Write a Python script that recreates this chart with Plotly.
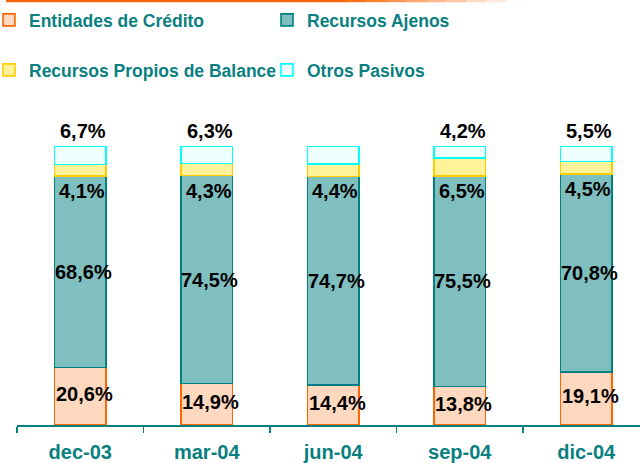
import plotly.graph_objects as go

categories = ["dec-03", "mar-04", "jun-04", "sep-04", "dic-04"]
entidades = [20.6, 14.9, 14.4, 13.8, 19.1]
ajenos = [68.6, 74.5, 74.7, 75.5, 70.8]
propios = [4.1, 4.3, 4.4, 6.5, 4.5]
otros = [6.7, 6.3, 6.5, 4.2, 5.5]

names = ["Entidades de Crédito", "Recursos Ajenos", "Recursos Propios de Balance", "Otros Pasivos"]
fills = ["#FFD9BF", "#80BFBF", "#FFF299", "#EFFFFF"]
lines = ["#FF6600", "#008080", "#FFCC00", "#00FFFF"]
legends = ["legend", "legend", "legend2", "legend2"]

W, H = 640, 463
ML, MR, MT, MB = 17, 0, 146, 38
TEAL = "#0A7F7F"
FONT = "Arial, Liberation Sans, sans-serif"

fig = go.Figure()
for name, vals, fc, lc, lg in zip(names, [entidades, ajenos, propios, otros], fills, lines, legends):
    fig.add_trace(go.Bar(
        x=categories, y=vals, name=name, width=0.41,
        marker=dict(color=fc, line=dict(color=lc, width=1.6)),
        legend=lg, hoverinfo="skip",
    ))

def fmt(v):
    return f"{v:.1f}%".replace(".", ",")

ann = []
lab_font = dict(family=FONT, size=20, color="black", weight="bold")
for i, c in enumerate(categories):
    e, a, p, o = entidades[i], ajenos[i], propios[i], otros[i]
    ann.append(dict(x=c, y=e / 2, text=fmt(e), showarrow=False, xshift=4, yshift=2, font=lab_font))
    ann.append(dict(x=c, y=e + a / 2, text=fmt(a), showarrow=False, xshift=3, font=lab_font))
    ann.append(dict(x=c, y=e + a, text=fmt(p), showarrow=False, yanchor="middle", yshift=-15, xshift=2, font=lab_font))
    ann.append(dict(x=c, y=e + a + p + o, text=fmt(o), showarrow=False, yanchor="middle", yshift=15, xshift=3, font=lab_font))

# gradient orange rule at top
pw = W - ML - MR
ph = H - MT - MB
def px2x(px):
    return (px - ML) / pw
def py2y(py):
    return (H - MB - py) / ph
shapes = []
xs = [6 + k * 20 for k in range(27)]
for k in range(len(xs) - 1):
    xm = (xs[k] + xs[k + 1]) / 2
    alpha = 1.0 if xm < 340 else max(0.0, 1 - (xm - 340) / 180)
    shapes.append(dict(type="line", xref="paper", yref="paper",
                       x0=px2x(xs[k]), x1=px2x(xs[k + 1]), y0=py2y(1), y1=py2y(1),
                       line=dict(color=f"rgba(255,102,0,{alpha:.2f})", width=2.5)))

leg_font = dict(family=FONT, size=17.5, color=TEAL, weight="bold")
fig.update_layout(
    width=W, height=H,
    margin=dict(l=ML, r=MR, t=MT, b=MB, autoexpand=False),
    paper_bgcolor="white", plot_bgcolor="white",
    barmode="stack", bargap=0.59,
    showlegend=True,
    legend=dict(orientation="h", xref="paper", x=px2x(-11), xanchor="left",
                yref="paper", y=py2y(2), yanchor="top",
                entrywidth=233, entrywidthmode="pixels", font=leg_font,
                bgcolor="rgba(0,0,0,0)", traceorder="normal"),
    legend2=dict(orientation="h", xref="paper", x=px2x(-11), xanchor="left",
                 yref="paper", y=py2y(52), yanchor="top",
                 entrywidth=233, entrywidthmode="pixels", font=leg_font,
                 bgcolor="rgba(0,0,0,0)", traceorder="normal"),
    xaxis=dict(type="category", range=[-0.5, -0.5 + pw / 126.5],
               showline=True, linecolor=TEAL, linewidth=1.5,
               ticks="outside", tickson="boundaries", ticklen=6, tickcolor=TEAL, tickwidth=1.5,
               tickfont=dict(family=FONT, size=20, color=TEAL, weight="bold"),
               ticklabelstandoff=8, showgrid=False, zeroline=False),
    yaxis=dict(range=[0, 100], visible=False, showgrid=False, zeroline=False),
    annotations=ann,
    shapes=shapes,
)

fig.write_html("out.html", config={"displayModeBar": False, "staticPlot": True},
               post_script="document.body.style.margin='0';document.body.style.padding='0';")
